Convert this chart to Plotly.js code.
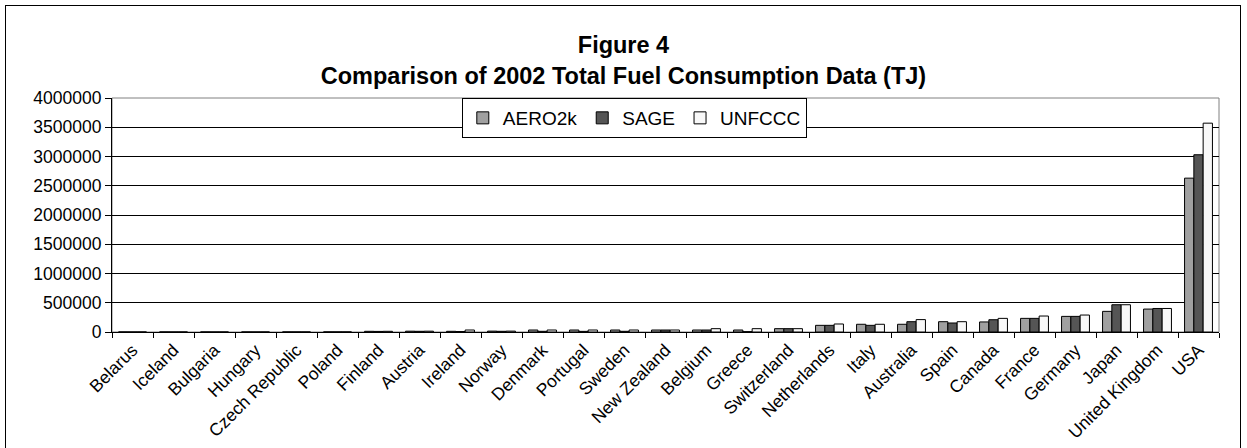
<!DOCTYPE html>
<html>
<head>
<meta charset="utf-8">
<script src="https://cdn.plot.ly/plotly-3.0.1.min.js"></script>
<style>
  html, body { margin: 0; padding: 0; background: #fff; }
  #chart { width: 1247px; height: 448px; }
  #frame { position: absolute; left: 5px; top: 5px; width: 1236px; height: 445px;
           border: 1.5px solid #000; box-sizing: border-box; pointer-events: none; }
</style>
</head>
<body>
<div id="chart"></div>
<div id="frame"></div>
<script>
const countries = ["Belarus", "Iceland", "Bulgaria", "Hungary", "Czech Republic", "Poland",
  "Finland", "Austria", "Ireland", "Norway", "Denmark", "Portugal", "Sweden", "New Zealand",
  "Belgium", "Greece", "Switzerland", "Netherlands", "Italy", "Australia", "Spain", "Canada",
  "France", "Germany", "Japan", "United Kingdom", "USA"];

const aero2k = [1000, 1000, 1000, 1000, 1500, 2000,
  12000, 14000, 12000, 15000, 34000, 34000, 34000, 34000,
  34000, 34000, 57000, 114000, 132000, 132000, 176000, 172000,
  233000, 267000, 353000, 392000, 2630000];

const sage = [500, 500, 500, 500, 1000, 1500,
  10000, 12000, 8000, 12000, 12000, 11000, 12000, 34000,
  34000, 6000, 57000, 114000, 114000, 176000, 154000, 210000,
  233000, 267000, 466000, 402000, 3030000];

const unfccc = [1000, 1000, 1000, 1000, 1500, 2000,
  12000, 14000, 34000, 15000, 34000, 34000, 34000, 34000,
  57000, 57000, 57000, 137000, 132000, 212000, 176000, 233000,
  273000, 290000, 466000, 402000, 3570000];

const yTicks = [0, 500000, 1000000, 1500000, 2000000, 2500000, 3000000, 3500000, 4000000];

const FONT = "Arial, 'Liberation Sans', sans-serif";
const lineStyle = {color: "#000", width: 1};

const traces = [
  {name: "AERO2k", y: aero2k, color: "#a0a0a0"},
  {name: "SAGE", y: sage, color: "#555555"},
  {name: "UNFCCC", y: unfccc, color: "#f8f8f8"}
].map(s => ({
  type: "bar", x: countries, y: s.y, name: s.name,
  marker: {color: s.color, line: lineStyle},
  hoverinfo: "x+y+name"
}));

const layout = {
  width: 1247, height: 448,
  margin: {l: 112, r: 28, t: 97.5, b: 116, pad: 0},
  paper_bgcolor: "#fff", plot_bgcolor: "#fff",
  font: {family: FONT, color: "#000", size: 16},
  barmode: "group", bargap: 0.32, bargroupgap: 0,
  title: {
    text: "<b>Figure 4<br>Comparison of 2002 Total Fuel Consumption Data (TJ)</b>",
    font: {family: FONT, size: 23.5, color: "#000"},
    x: 0.5, xref: "container", xanchor: "center",
    y: 1 - 53 / 448, yref: "container", yanchor: "middle"
  },
  xaxis: {
    type: "category", tickangle: -45, tickson: "boundaries",
    ticks: "outside", ticklen: 5, tickcolor: "#000", tickwidth: 1,
    showline: true, linecolor: "#000", linewidth: 1,
    showgrid: false, zeroline: false,
    tickfont: {family: FONT, size: 17.5, color: "#000"},
    automargin: false
  },
  yaxis: {
    range: [0, 4000000], tickvals: yTicks, ticktext: yTicks.map(String),
    ticks: "outside", ticklen: 6, tickcolor: "#000", tickwidth: 1,
    showline: true, linecolor: "#000", linewidth: 1,
    showgrid: true, gridcolor: "#000", gridwidth: 1, zeroline: false,
    tickfont: {family: FONT, size: 17.5, color: "#000"},
    automargin: false
  },
  shapes: [{
    type: "rect", xref: "paper", yref: "paper", x0: 0, x1: 1, y0: 0, y1: 1,
    line: {color: "#808080", width: 1}, fillcolor: "rgba(0,0,0,0)", layer: "below"
  }],
  legend: {
    orientation: "h", x: 0.316, xanchor: "left", y: 1.0, yanchor: "top",
    bgcolor: "#fff", bordercolor: "#000", borderwidth: 1,
    font: {family: FONT, size: 19, color: "#000"},
    itemwidth: 30, traceorder: "normal"
  },
  showlegend: true
};

Plotly.newPlot("chart", traces, layout, {displayModeBar: false, staticPlot: true});
</script>
</body>
</html>
